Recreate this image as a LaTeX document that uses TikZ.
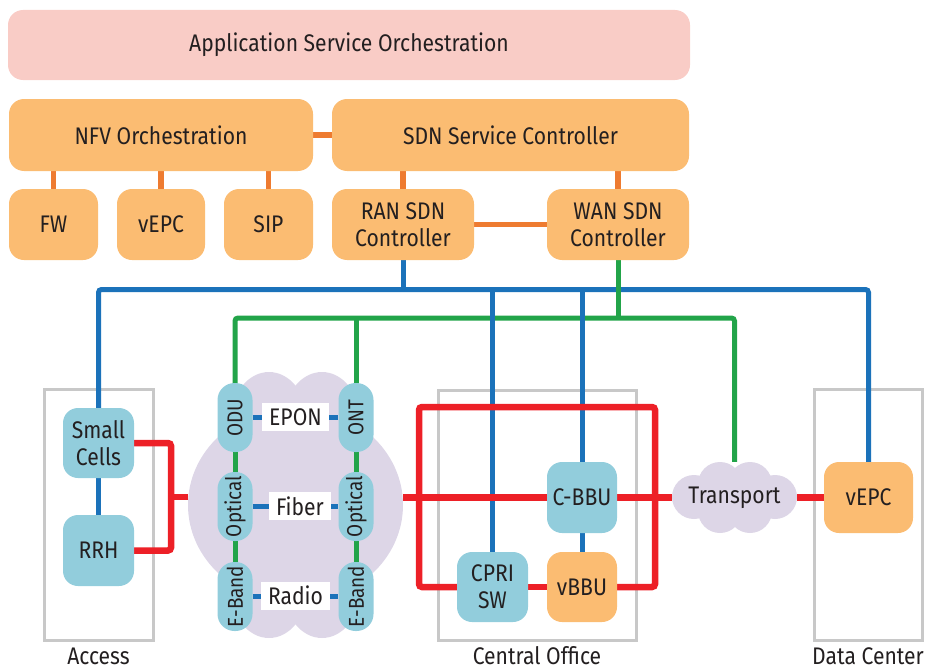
\documentclass[tikz,border=0pt]{standalone}
\usepackage{fontspec}
\usepackage{graphicx}
\setmainfont[FakeStretch=0.88]{Fira Sans}
\definecolor{pinkfill}{HTML}{F9CCC6}
\definecolor{orfill}{HTML}{FBBC72}
\definecolor{orline}{HTML}{EE7B30}
\definecolor{blline}{HTML}{1B72BA}
\definecolor{grline}{HTML}{22A449}
\definecolor{rdline}{HTML}{ED2027}
\definecolor{ltblue}{HTML}{92CDDC}
\definecolor{lav}{HTML}{DDD6E7}
\definecolor{grbox}{HTML}{C8C8C8}
\definecolor{txt}{HTML}{231F20}
\pgfdeclarelayer{bg}
\pgfdeclarelayer{lines}
\pgfsetlayers{bg,lines,main}
\tikzset{
  every node/.style={font=\fontsize{24}{27}\selectfont, text=txt},
  obox/.style={fill=orfill, rounded corners=15pt, inner sep=0pt, align=center},
  bbox/.style={fill=ltblue, rounded corners=15pt, inner sep=0pt, align=center},
  pill/.style={fill=ltblue, rounded corners=17pt, inner sep=0pt, minimum width=35pt, minimum height=69pt, font=\fontsize{21.5}{24}\selectfont},
  lab/.style={fill=white, inner xsep=7pt, inner ysep=0pt, minimum height=28pt},
  ghost/.style={inner sep=0pt},
  sitelabel/.style={anchor=base, inner sep=0pt},
  oline/.style={draw=orline, line width=5.5pt},
  bline/.style={draw=blline, line width=5pt, rounded corners=3pt},
  gline/.style={draw=grline, line width=5pt, rounded corners=3pt},
  rline/.style={draw=rdline, line width=6.5pt, rounded corners=3pt},
  frame/.style={draw=grbox, line width=3pt},
  cloudfill/.style={fill=lav, draw=none}
}
\begin{document}
\begin{tikzpicture}[x=1pt,y=-1pt]
\useasboundingbox (0,0) rectangle (926,669);

% top layer
\node[obox, fill=pinkfill, minimum width=682pt, minimum height=70pt] (app) at (349,45) {Application Service Orchestration};
\node[obox, minimum width=304pt, minimum height=72pt] (nfv) at (161,135) {NFV Orchestration};
\node[obox, minimum width=357pt, minimum height=72pt] (sdn) at (510.5,135) {SDN Service Controller};
\node[obox, minimum width=89pt, minimum height=71pt] (fw) at (53.5,224.5) {FW};
\node[obox, minimum width=88pt, minimum height=71pt] (vepc) at (161,224.5) {vEPC};
\node[obox, minimum width=89pt, minimum height=71pt] (sip) at (268.5,224.5) {SIP};
\node[obox, minimum width=142pt, minimum height=71pt] (ran) at (403,224.5) {RAN SDN\\Controller};
\node[obox, minimum width=142pt, minimum height=71pt] (wan) at (618,224.5) {WAN SDN\\Controller};

% access
\node[bbox, minimum width=71pt, minimum height=70pt] (small) at (98.5,443) {Small\\Cells};
\node[bbox, minimum width=71pt, minimum height=71pt] (rrh) at (98.5,550.5) {RRH};
\node[sitelabel] (acc) at (98.5,664) {Access};

% pon cloud
\node[ghost, minimum width=215pt, minimum height=270pt] (pon) at (295.5,505) {};
\node[pill] (odu) at (235,417.5) {\rotatebox{90}{ODU}};
\node[pill] (opt1) at (235,506.5) {\rotatebox{90}{Optical}};
\node[pill] (eb1) at (235,596.5) {\rotatebox{90}{E-Band}};
\node[pill] (ont) at (356,417.5) {\rotatebox{90}{ONT}};
\node[pill] (opt2) at (356,506.5) {\rotatebox{90}{Optical}};
\node[pill] (eb2) at (356,596.5) {\rotatebox{90}{E-Band}};
\node[lab] (epon) at (295.5,417) {EPON};
\node[lab] (fiber) at (300,506) {Fiber};
\node[lab] (radio) at (295.5,595.5) {Radio};

% central office
\node[bbox, minimum width=70pt, minimum height=71pt] (cbbu) at (582,497.5) {C-BBU};
\node[bbox, minimum width=71pt, minimum height=70pt] (cpri) at (492.5,587) {CPRI\\SW};
\node[obox, minimum width=70pt, minimum height=70pt] (vbbu) at (582,587) {vBBU};
\node[sitelabel] (colab) at (537,664) {Central Office};

% transport and data center
\node[ghost, minimum width=125pt, minimum height=71pt] (transport) at (734.5,497.5) {Transport};
\node[obox, minimum width=89pt, minimum height=71pt] (vepc2) at (868.5,497.5) {vEPC};
\node[sitelabel] (dclab) at (868,664) {Data Center};

\coordinate (bus) at (0,289.5);
\coordinate (gbus) at (0,318);
\coordinate (rj) at (171,497);
\coordinate (rtl) at (419,407);
\coordinate (rtr) at (655,407);

\begin{pgfonlayer}{bg}
  \draw[frame] (44,389) rectangle (153,640);
  \draw[frame] (438,390) rectangle (636,640);
  \draw[frame] (814,389) rectangle (922,640);
  % pon cloud
  \fill[cloudfill] (295.5,505) ellipse [x radius=107.5pt, y radius=98pt];
  \fill[cloudfill] (269,420) ellipse [x radius=38pt, y radius=48pt];
  \fill[cloudfill] (322,420) ellipse [x radius=38pt, y radius=48pt];
  \fill[cloudfill] (269,590) ellipse [x radius=38pt, y radius=48pt];
  \fill[cloudfill] (322,590) ellipse [x radius=38pt, y radius=48pt];
  \fill[cloudfill] (245,440) rectangle (346,570);
  % transport cloud
  \fill[cloudfill] (720,484) circle [radius=22pt];
  \fill[cloudfill] (750,484) circle [radius=22pt];
  \fill[cloudfill] (720,511) circle [radius=22pt];
  \fill[cloudfill] (750,511) circle [radius=22pt];
  \fill[cloudfill] (694,497) circle [radius=22pt];
  \fill[cloudfill] (775,497) circle [radius=22pt];
  \fill[cloudfill] (700,480) rectangle (770,515);
\end{pgfonlayer}

\begin{pgfonlayer}{lines}
  % orange
  \draw[oline] (nfv.east) -- (sdn.west);
  \draw[oline] (nfv.south -| fw.north) -- (fw.north);
  \draw[oline] (nfv.south -| vepc.north) -- (vepc.north);
  \draw[oline] (nfv.south -| sip.north) -- (sip.north);
  \draw[oline] (sdn.south -| ran.north) -- (ran.north);
  \draw[oline] (sdn.south -| wan.north) -- (wan.north);
  \draw[oline] (ran.east) -- (wan.west);
  % blue bus
  \draw[bline] (small.north) |- (vepc2.north |- bus) -- (vepc2.north);
  \draw[bline] (ran.south) -- (ran.south |- bus);
  \draw[bline] (small.south) -- (rrh.north);
  % green
  \draw[gline] (odu.north) |- (transport.north |- gbus) -- (transport.north);
  \draw[gline] (wan.south) -- (wan.south |- gbus);
  \draw[gline] (ont.north) -- (ont.north |- gbus);
  \draw[gline] (odu) -- (opt1) -- (eb1);
  \draw[gline] (ont) -- (opt2) -- (eb2);
  % blue verticals and links
  \draw[bline] (cpri.north) -- (cpri.north |- bus);
  \draw[bline] (cbbu.north) -- (cbbu.north |- bus);
  \draw[bline] (cbbu.south) -- (vbbu.north);
  \draw[bline] (odu.east) -- (ont.west);
  \draw[bline] (opt1.east) -- (opt2.west);
  \draw[bline] (eb1.east) -- (eb2.west);
  % red
  \draw[rline] (small.east) -| (rj) |- (rrh.east);
  \draw[rline] (rj) -- (pon.west |- rj);
  \draw[rline] (pon.east |- cbbu.west) -- (cbbu.west);
  \draw[rline] (cpri.west) -| (rtl) -- (rtr) |- (vbbu.east);
  \draw[rline] (cpri.east) -- (vbbu.west);
  \draw[rline] (cbbu.east) -- (transport.west);
  \draw[rline] (transport.east) -- (vepc2.west);
\end{pgfonlayer}
\end{tikzpicture}
\end{document}
